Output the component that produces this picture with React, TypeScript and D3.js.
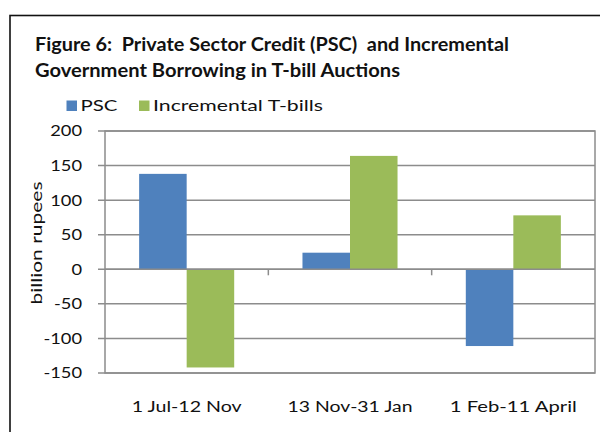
import React from "react";
import * as d3 from "d3";

const categories = ["1 Jul-12 Nov", "13 Nov-31 Jan", "1 Feb-11 April"];
const seriesNames = ["PSC", "Incremental T-bills"];
const pscValues = [138, 24, -111];
const tbillValues = [-142, 164, 78];
const yTicks = [-150, -100, -50, 0, 50, 100, 150, 200];
const colors = ["#4f81bd", "#9bbb59"];

const W = 600;
const H = 432;
const FONT = "Lato, 'Open Sans', sans-serif";
const TXT = "#111";

export default function App() {
  const plot = { left: 105, right: 595, top: 131, bottom: 373 };
  const y = d3.scaleLinear().domain([-150, 200]).range([plot.bottom, plot.top]);
  const x0 = d3
    .scaleBand<string>()
    .domain(categories)
    .range([plot.left, plot.right])
    .paddingInner(0.418)
    .paddingOuter(0.209);
  const x1 = d3.scaleBand<string>().domain(seriesNames).range([0, x0.bandwidth()]);
  const step = (plot.right - plot.left) / categories.length;
  const series = [pscValues, tbillValues];
  const xLabelWidths = [110, 125, 127];

  return (
    <svg width={W} height={H} style={{ position: "absolute", left: 0, top: 0, display: "block" }}>
      <rect x={0} y={0} width={W} height={H} fill="#fff" />
      <rect x={10} y={15.5} width={W + 10} height={H} fill="none" stroke="#111" strokeWidth={1.6} />
      <text
        x={35}
        y={51}
        fontFamily={FONT}
        fontWeight="bold"
        fontSize={18.5}
        fill={TXT}
        style={{ whiteSpace: "pre" }}
        textLength={474}
        lengthAdjust="spacingAndGlyphs"
      >
        {"Figure 6:  Private Sector Credit (PSC)  and Incremental"}
      </text>
      <text
        x={35}
        y={76.5}
        fontFamily={FONT}
        fontWeight="bold"
        fontSize={18.5}
        fill={TXT}
        textLength={365}
        lengthAdjust="spacingAndGlyphs"
      >
        Government Borrowing in T-bill Auctions
      </text>
      {/* legend */}
      {seriesNames.map((s, i) => {
        const lx = i === 0 ? 66.5 : 139;
        const tl = i === 0 ? 37 : 170;
        return (
          <g key={s}>
            <rect x={lx} y={100.5} width={10.5} height={10.5} fill={colors[i]} />
            <text
              x={lx + 14}
              y={111}
              fontFamily={FONT}
              fontSize={15}
              fill={TXT}
              textLength={tl}
              lengthAdjust="spacingAndGlyphs"
            >
              {s}
            </text>
          </g>
        );
      })}
      {/* gridlines and y ticks */}
      {yTicks.map((t) => (
        <g key={t}>
          <line x1={plot.left - 7} x2={plot.right} y1={y(t)} y2={y(t)} stroke="#8c8c8c" strokeWidth={1.5} />
          <g transform={`translate(82,${y(t)}) scale(1.22,1)`}>
            <text x={0} y={0} dy="0.36em" textAnchor="end" fontFamily={FONT} fontSize={15} fill={TXT}>
              {t}
            </text>
          </g>
        </g>
      ))}
      <rect
        x={plot.left}
        y={plot.top}
        width={plot.right - plot.left}
        height={plot.bottom - plot.top}
        fill="none"
        stroke="#8c8c8c"
        strokeWidth={1.5}
      />
      {/* bars */}
      {categories.map((c, ci) =>
        series.map((vals, si) => {
          const v = vals[ci];
          const bx = (x0(c) as number) + (x1(seriesNames[si]) as number);
          return (
            <rect
              key={c + si}
              x={bx}
              y={y(Math.max(0, v))}
              width={x1.bandwidth()}
              height={Math.abs(y(v) - y(0))}
              fill={colors[si]}
            />
          );
        })
      )}
      {/* x axis at zero */}
      <line x1={plot.left} x2={plot.right} y1={y(0)} y2={y(0)} stroke="#8c8c8c" strokeWidth={1.5} />
      {[1, 2].map((k) => (
        <line
          key={k}
          x1={plot.left + step * k}
          x2={plot.left + step * k}
          y1={y(0)}
          y2={y(0) + 6}
          stroke="#8c8c8c"
          strokeWidth={1.5}
        />
      ))}
      {categories.map((c, i) => (
        <text
          key={c}
          x={(x0(c) as number) + x0.bandwidth() / 2 - xLabelWidths[i] / 2}
          y={412}
          fontFamily={FONT}
          fontSize={15.5}
          fill={TXT}
          textLength={xLabelWidths[i]}
          lengthAdjust="spacingAndGlyphs"
        >
          {c}
        </text>
      ))}
      <text
        transform={`translate(42,304.5) rotate(-90)`}
        fontFamily={FONT}
        fontSize={16}
        fill={TXT}
        textLength={123}
        lengthAdjust="spacingAndGlyphs"
      >
        billion rupees
      </text>
    </svg>
  );
}
